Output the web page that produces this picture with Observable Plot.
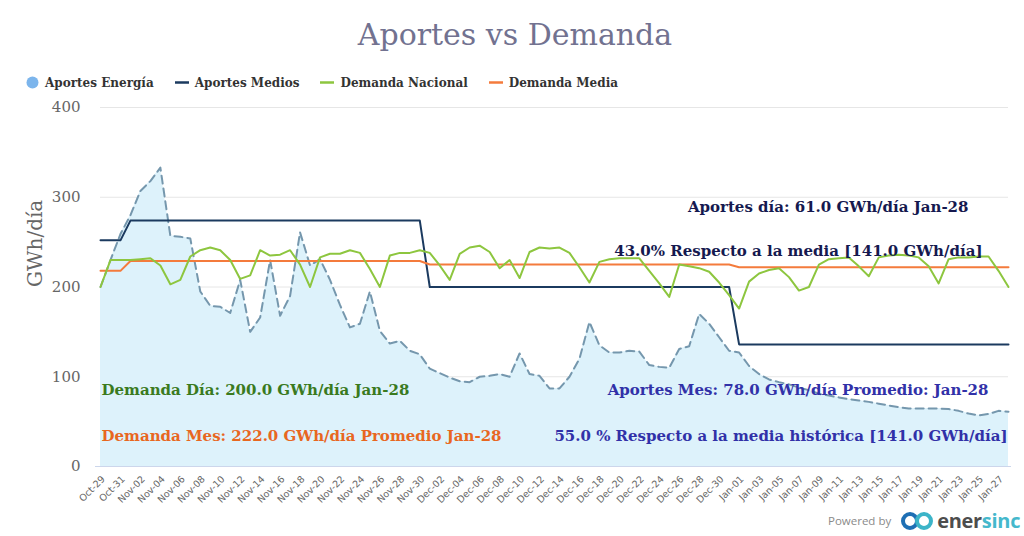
<!DOCTYPE html>
<html>
<head>
<meta charset="utf-8">
<script src="https://cdn.jsdelivr.net/npm/d3@7"></script>
<script src="https://cdn.jsdelivr.net/npm/@observablehq/plot@0.6"></script>
<style>
  html, body { margin: 0; padding: 0; background: #fff; }
  #wrap { position: relative; width: 1024px; height: 536px; overflow: hidden; }
  #chart { position: absolute; left: 0; top: 0; }
  #title { position: absolute; left: 0; width: 1030px; top: 17px; text-align: center;
           font-family: "DejaVu Serif", serif; font-size: 30px; color: #727290; }
  #legend { position: absolute; left: 26px; top: 75px; font-family: "DejaVu Serif", serif;
            font-weight: bold; font-size: 12px; color: #333; white-space: nowrap; }
  #legend span.item { display: inline-block; margin-right: 21px; vertical-align: middle; }
  #legend .sym { display: inline-block; vertical-align: middle; margin-right: 6px; }
  #logo { position: absolute; left: 828px; top: 507px; white-space: nowrap; }
  #logo .pb { font-family: "Open Sans", "DejaVu Sans", sans-serif; font-size: 11.5px; color: #8a8a8a;
              vertical-align: middle; }
  #logo .brand { font-family: "Open Sans", sans-serif; font-weight: bold; font-size: 20px;
                 vertical-align: middle; letter-spacing: -0.3px; }
</style>
</head>
<body>
<div id="wrap">
  <div id="chart"></div>
  <div id="title"></div>
  <div id="legend"></div>
  <div id="logo"></div>
</div>
<script>
// ---------- data ----------
const startDate = new Date(Date.UTC(2023, 9, 29));   // Oct-29
const endDate   = new Date(Date.UTC(2024, 0, 29));   // exclusive (last = Jan-28)

// Aportes Energía (GWh/día), one per day Oct-29 .. Jan-28
const aportesEnergia = [
  200, 230, 259, 280, 307, 318, 333, 257, 256, 254,
  195, 179, 178, 171, 208, 150, 166, 230, 168, 190,
  261, 224, 231, 208, 180, 155, 159, 195, 151, 137,
  140, 129, 125, 109, 104, 99, 95, 94, 100, 101,
  103, 100, 126, 103, 101, 87, 87, 100, 120, 161,
  135, 127, 127, 129, 128, 113, 111, 110, 131, 134,
  170, 159, 144, 129, 127, 112, 103, 97, 94, 91.5,
  88, 85, 81, 79, 77, 75, 73.5, 72, 70, 68,
  66, 64.5, 64.5, 64.5, 64.5, 64, 62, 59, 57, 58.5,
  62, 61
];

// Demanda Nacional (GWh/día), one per day
const demandaNacional = [
  200, 230, 230, 230, 231, 232, 224, 203, 208, 234,
  241, 244, 241, 230, 209, 213, 241, 235, 236, 241,
  225, 200, 233, 237, 237, 241, 238, 220, 200, 235,
  238, 238, 241, 238, 224, 208, 237, 244, 246, 239,
  221, 230, 210, 239, 244, 243, 244, 238, 222, 205,
  228, 231, 232, 232, 232, 218, 204, 189, 225, 223,
  221, 217, 205, 191, 176, 206, 215, 219, 221, 211,
  196, 200, 225, 231, 232, 233, 223, 212, 233, 235,
  236, 235, 233, 223, 204, 231, 233, 233, 234, 234,
  218, 200
];

// Monthly reference values
const meses = ["2023-10", "2023-11", "2023-12", "2024-01"];
const aportesMedios = [252, 274, 200, 136];
const demandaMedia = [218, 229, 225, 222];

const yTicks = [0, 100, 200, 300, 400];

const titulo = "Aportes vs Demanda";
const ejeY = "GWh/día";
const series = [
  {name: "Aportes Energía", color: "#7cb5ec", type: "dot"},
  {name: "Aportes Medios", color: "#1b3a5f", type: "line"},
  {name: "Demanda Nacional", color: "#8dc63f", type: "line"},
  {name: "Demanda Media", color: "#f47b3c", type: "line"}
];
const notas = {
  aportesDia: "Aportes día: 61.0 GWh/día Jan-28",
  aportesPct: "43.0% Respecto a la media [141.0 GWh/día]",
  demandaDia: "Demanda Día: 200.0 GWh/día Jan-28",
  demandaMes: "Demanda Mes: 222.0 GWh/día Promedio Jan-28",
  aportesMes: "Aportes Mes: 78.0 GWh/día Promedio: Jan-28",
  aportesHist: "55.0 % Respecto a la media histórica [141.0 GWh/día]"
};

// ---------- build table ----------
const dates = d3.utcDay.range(startDate, endDate);
const fmtMonth = d3.utcFormat("%Y-%m");
const data = dates.map((d, i) => {
  const m = meses.indexOf(fmtMonth(d));
  return {
    date: d,
    aportes: aportesEnergia[i],
    demanda: demandaNacional[i],
    aportesMedios: aportesMedios[m],
    demandaMedia: demandaMedia[m]
  };
});
const xTicks = dates.filter((d, i) => i % 2 === 0);

const serif = "DejaVu Serif";
const annot = (text, opts) => Plot.text([text], {
  text: d => d, fontFamily: serif, fontWeight: "bold", fontSize: 15, lineAnchor: "middle", ...opts
});

const chart = Plot.plot({
  width: 1024,
  height: 536,
  marginTop: 107,
  marginBottom: 70,
  marginLeft: 100,
  marginRight: 16,
  style: {fontFamily: serif, background: "transparent"},
  x: {type: "utc", domain: [dates[0], dates[dates.length - 1]]},
  y: {domain: [0, 400]},
  marks: [
    Plot.gridY(yTicks.slice(1), {stroke: "#e6e6e6", strokeOpacity: 1}),
    Plot.areaY(data, {x: "date", y: "aportes", fill: "#ddf2fb"}),
    Plot.ruleY([0], {stroke: "#ccd6eb", strokeWidth: 1, x1: dates[0], x2: dates[dates.length - 1], insetLeft: -5, insetRight: -3}),
    Plot.lineY(data, {x: "date", y: "aportes", stroke: "#7597ad", strokeWidth: 2, strokeDasharray: "8,5"}),
    Plot.lineY(data, {x: "date", y: "aportesMedios", stroke: "#1b3a5f", strokeWidth: 2}),
    Plot.lineY(data, {x: "date", y: "demandaMedia", stroke: "#f47b3c", strokeWidth: 2}),
    Plot.lineY(data, {x: "date", y: "demanda", stroke: "#8dc63f", strokeWidth: 2}),
    Plot.axisY({ticks: yTicks, tickSize: 0, tickPadding: 20, fontSize: 15, fill: "#666", label: null}),
    Plot.axisX({ticks: xTicks, tickFormat: d3.utcFormat("%b-%d"), tickRotate: -45, tickSize: 0,
                tickPadding: 11, dx: 3, fontSize: 9.5, fontFamily: "DejaVu Sans", fill: "#666", label: null}),
    Plot.text([ejeY], {text: d => d, frameAnchor: "left", dx: -65, rotate: -90, fontSize: 20,
                       fill: "#666", fontFamily: serif}),
    annot(notas.aportesDia, {frameAnchor: "top-right", textAnchor: "end", dx: -40, dy: 100, fill: "#15194f"}),
    annot(notas.aportesPct, {frameAnchor: "top-right", textAnchor: "end", dx: -26, dy: 144, fill: "#15194f"}),
    annot(notas.demandaDia, {frameAnchor: "top-left", textAnchor: "start", dx: 1, dy: 283, fill: "#3a7a1e"}),
    annot(notas.demandaMes, {frameAnchor: "top-left", textAnchor: "start", dx: 1, dy: 329, fill: "#e8671f"}),
    annot(notas.aportesMes, {frameAnchor: "top-right", textAnchor: "end", dx: -20, dy: 283, fill: "#3131a8"}),
    annot(notas.aportesHist, {frameAnchor: "top-right", textAnchor: "end", dx: -1, dy: 329, fill: "#3131a8"})
  ]
});
document.getElementById("chart").appendChild(chart);

// ---------- title ----------
document.getElementById("title").textContent = titulo;

// ---------- legend ----------
const legend = document.getElementById("legend");
series.forEach(s => {
  const item = document.createElement("span");
  item.className = "item";
  const sym = s.type === "dot"
    ? `<svg class="sym" width="13" height="13"><circle cx="6.5" cy="6.5" r="6" fill="${s.color}"/></svg>`
    : `<svg class="sym" width="14" height="13"><line x1="0" x2="14" y1="6.5" y2="6.5" stroke="${s.color}" stroke-width="2.5"/></svg>`;
  item.innerHTML = sym + `<span style="vertical-align:middle">${s.name}</span>`;
  legend.appendChild(item);
});

// ---------- logo ----------
document.getElementById("logo").innerHTML =
  `<span class="pb">Powered by</span>` +
  `<svg width="34" height="24" style="vertical-align:middle;margin:0 3px 0 9px">` +
  `<circle cx="10" cy="12" r="7" fill="none" stroke="#1e6fb4" stroke-width="4"/>` +
  `<circle cx="24" cy="12" r="7" fill="none" stroke="#3cb4c8" stroke-width="4"/></svg>` +
  `<span class="brand"><span style="color:#4d4d4d">ener</span><span style="color:#45b8cc">sinc</span></span>`;
</script>
</body>
</html>
